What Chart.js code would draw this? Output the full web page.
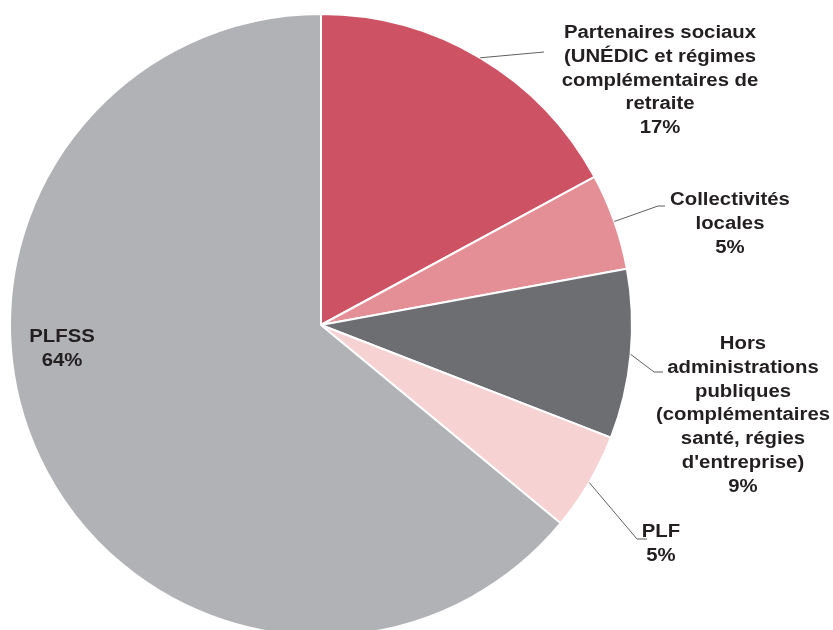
<!DOCTYPE html>
<html>
<head>
<meta charset="utf-8">
<script src="https://cdn.jsdelivr.net/npm/chart.js@4.4.0/dist/chart.umd.min.js"></script>
<style>
  html, body { margin: 0; padding: 0; background: #fff; overflow: hidden; }
  #wrap { width: 833px; height: 640px; position: relative; }
</style>
</head>
<body>
<div id="wrap"><canvas id="financeChart"></canvas></div>
<script>
// slices, clockwise from 12 o'clock
var categories = [
  ['Partenaires sociaux', '(UNÉDIC et régimes', 'complémentaires de', 'retraite'],
  ['Collectivités', 'locales'],
  ['Hors', 'administrations', 'publiques', '(complémentaires', 'santé, régies', "d'entreprise)"],
  ['PLF'],
  ['PLFSS']
];
var shares = [17.1, 5.0, 8.8, 5.1, 64.0];
var shownPercent = ['17%', '5%', '9%', '5%', '64%'];
var sliceColors = ['#cd5263', '#e48f96', '#6d6e72', '#f7d2d3', '#b1b2b6'];

// label placement: text centre x, first line y, elbow of leader line (null = no line)
var labelLayout = [
  { x: 660, y: 33, elbow: [544, 52], end: [544, 52] },
  { x: 730, y: 200, elbow: [658, 206], end: [665, 206] },
  { x: 743, y: 344, elbow: [654, 372], end: [663, 372] },
  { x: 661, y: 532, elbow: [637, 539], end: [647, 539] },
  { x: 62, y: 337, elbow: null }
];

var outsideLabels = {
  id: 'outsideLabels',
  afterDatasetsDraw: function(chart) {
    var ctx = chart.ctx;
    var arcs = chart.getDatasetMeta(0).data;
    ctx.save();
    arcs.forEach(function(arc, i) {
      var lay = labelLayout[i];
      if (lay.elbow) {
        var p = arc.getProps(['x', 'y', 'startAngle', 'endAngle', 'outerRadius'], true);
        var mid = (p.startAngle + p.endAngle) / 2;
        var sx = p.x + Math.cos(mid) * p.outerRadius;
        var sy = p.y + Math.sin(mid) * p.outerRadius;
        ctx.strokeStyle = '#5f5f5f';
        ctx.lineWidth = 1;
        ctx.beginPath();
        ctx.moveTo(sx, sy);
        ctx.lineTo(lay.elbow[0], lay.elbow[1]);
        ctx.lineTo(lay.end[0], lay.end[1]);
        ctx.stroke();
      }
      var lines = categories[i].concat([shownPercent[i]]);
      ctx.fillStyle = '#231f20';
      ctx.font = 'bold 18px "Liberation Sans", Arial, sans-serif';
      ctx.textAlign = 'center';
      ctx.textBaseline = 'middle';
      lines.forEach(function(t, k) {
        // the source type is set wide
        ctx.save();
        ctx.translate(lay.x, lay.y + k * 23.8);
        ctx.scale(1.13, 1);
        ctx.fillText(t, 0, 0);
        ctx.restore();
      });
    });
    ctx.restore();
  }
};

document.addEventListener('DOMContentLoaded', function() {
  var ctx = document.getElementById('financeChart').getContext('2d');
  new Chart(ctx, {
    type: 'pie',
    data: {
      labels: categories.map(function(c) { return c.join(' '); }),
      datasets: [{
        data: shares,
        backgroundColor: sliceColors,
        borderColor: '#ffffff',
        borderWidth: 2,
        hoverOffset: 0,
        offset: 0
      }]
    },
    options: {
      responsive: true,
      maintainAspectRatio: false,
      animation: false,
      layout: { padding: { left: 9, right: 200, top: 13, bottom: 3 } },
      plugins: {
        legend: { display: false },
        tooltip: { enabled: false }
      }
    },
    plugins: [outsideLabels]
  });
});
</script>
</body>
</html>
